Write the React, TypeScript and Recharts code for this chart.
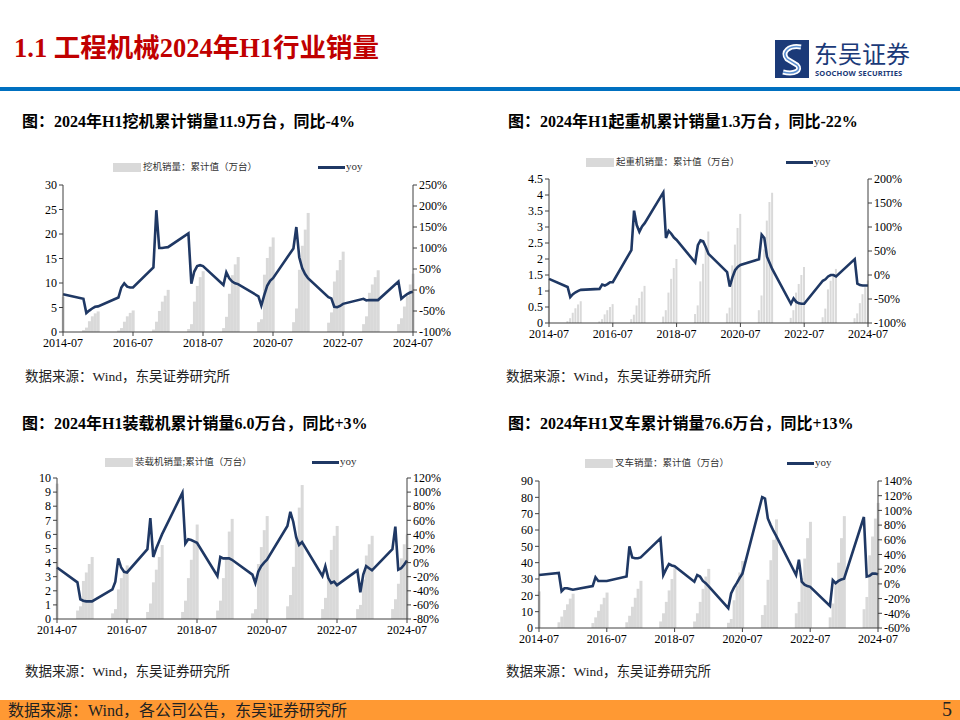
import React from "react";
import { ComposedChart, Bar, Line, XAxis, YAxis } from "recharts";

// month-end dates of the cumulative figures (Jan..Jun each year)
const months = [
  "2014-06",
  "2015-01", "2015-02", "2015-03", "2015-04", "2015-05", "2015-06",
  "2016-01", "2016-02", "2016-03", "2016-04", "2016-05", "2016-06",
  "2017-01", "2017-02", "2017-03", "2017-04", "2017-05", "2017-06",
  "2018-01", "2018-02", "2018-03", "2018-04", "2018-05", "2018-06",
  "2019-01", "2019-02", "2019-03", "2019-04", "2019-05", "2019-06",
  "2020-01", "2020-02", "2020-03", "2020-04", "2020-05", "2020-06",
  "2021-01", "2021-02", "2021-03", "2021-04", "2021-05", "2021-06",
  "2022-01", "2022-02", "2022-03", "2022-04", "2022-05", "2022-06",
  "2023-01", "2023-02", "2023-03", "2023-04", "2023-05", "2023-06",
  "2024-01", "2024-02", "2024-03", "2024-04", "2024-05", "2024-06",
];
const xTickLabels = ["2014-07", "2016-07", "2018-07", "2020-07", "2022-07", "2024-07"];

// 挖机
const excavatorSales = [
  7.2,
  0.4, 0.9, 2.2, 3.2, 3.8, 4.2,
  0.3, 0.8, 2.1, 3.2, 3.9, 4.4,
  0.5, 2.1, 4.3, 6.2, 7.4, 8.6,
  0.6, 1.6, 6.2, 9.4, 11.2, 12.4,
  0.8, 3.1, 7.8, 11.6, 13.8, 15.3,
  2.0, 2.6, 11.7, 15.1, 17.4, 19.3,
  2.0, 4.8, 12.7, 17.6, 20.9, 24.3,
  1.9, 4.0, 10.3, 12.6, 14.7, 16.4,
  1.6, 3.2, 8.0, 9.7, 11.2, 12.6,
  1.6, 2.8, 5.2, 7.3, 9.7, 11.9,
];
const excavatorYoy = [
  -10,
  -21, -55, -49, -44, -40, -39,
  -18, 6, 16, 8, 6, 6,
  54, 190, 100, 100, 101, 102,
  135, 15, 44, 57, 59, 57,
  12, 42, 28, 20, 16, 14,
  -15, -37, -12, 10, 22, 28,
  99, 150, 78, 52, 38, 28,
  -17, -20, -40, -41, -38, -33,
  -21, -25, -24, -24, -24, -24,
  20, -21, -15, -10, -6, -4,
];

// 起重机
const craneSales = [
  1.05,
  0.06, 0.15, 0.32, 0.46, 0.58, 0.68,
  0.05, 0.12, 0.27, 0.4, 0.5, 0.59,
  0.12, 0.26, 0.55, 0.78, 0.98, 1.16,
  0.2, 0.4, 0.95, 1.38, 1.72, 2.0,
  0.28, 0.55, 1.3, 1.85, 2.4, 2.86,
  0.3, 0.48, 1.8, 2.45, 2.97, 3.41,
  0.4, 0.86, 2.3, 3.2, 3.78, 4.07,
  0.16, 0.4, 0.95, 1.22, 1.5, 1.75,
  0.18, 0.45, 1.05, 1.32, 1.52, 1.69,
  0.15, 0.3, 0.62, 0.9, 1.12, 1.33,
];
const craneYoy = [
  -8,
  -25, -46, -40, -36, -33, -31,
  -29, -20, -22, -19, -15, -15,
  52, 134, 104, 90, 101, 108,
  172, 77, 92, 86, 78, 73,
  26, 62, 72, 70, 58, 44,
  6, -24, -5, 10, 17, 21,
  33, 84, 77, 38, 25, 12,
  -60, -49, -56, -59, -60, -60,
  -12, -9, -3, 0, 0, -3,
  33, -18, -21, -22, -22, -22,
];

// 装载机
const loaderSales = [
  9.6,
  0.6, 0.9, 2.7, 3.3, 3.9, 4.4,
  0.4, 0.7, 2.1, 2.9, 3.4, 3.8,
  0.5, 1.1, 2.6, 3.5, 4.4, 5.25,
  0.5, 1.3, 2.9, 4.2, 5.5, 6.7,
  0.6, 1.3, 2.9, 4.4, 6.2, 7.1,
  0.4, 0.7, 3.9, 5.1, 6.3, 7.3,
  0.9, 1.7, 3.7, 5.9, 7.9, 9.5,
  0.7, 1.5, 2.8, 4.9, 5.9, 6.6,
  0.7, 1.0, 2.8, 4.5, 5.3, 5.9,
  0.7, 1.4, 2.5, 4.3, 5.3, 6.0,
];
const loaderYoy = [
  -7,
  -28, -52, -54, -55, -55, -55,
  -38, -27, 6, -7, -13, -14,
  19, 63, 8, 20, 30, 40,
  99, 27, 33, 32, 30, 28,
  -19, 8, 6, 6, 6, 4,
  -17, -29, -13, -5, 0, 4,
  52, 72, 58, 36, 25, 29,
  -19, -5, -22, -29, -27, -32,
  -11, -42, -17, -5, -8, -11,
  19, 51, -10, -8, -3, 3,
];

// 叉车
const forkliftSales = [
  22.4,
  3.5, 7, 11, 14.5, 18, 21,
  3, 6.5, 10.5, 14.5, 18.5, 21.7,
  3.5, 7.5, 13, 18.5, 24, 28.9,
  4, 9, 16, 23, 30, 36.6,
  4, 9, 16, 24, 31.5, 36.2,
  3.2, 5.5, 17, 26, 34, 41,
  8, 14, 29.5, 41.5, 54, 66.5,
  9, 16, 30.5, 42.5, 55, 65,
  6.5, 15, 28, 40, 55, 68.5,
  11.5, 19, 44.5, 56, 67, 76.6,
];
const forkliftYoy = [
  12,
  15, -10, -6, -6, -7, -8,
  -3, 9, 4, 4, 4, 4,
  10, 51, 36, 35, 35, 36,
  62, 12, 20, 27, 25, 24,
  3, 12, 10, 4, 1, -3,
  -33, -13, -5, 1, 8, 14,
  118, 116, 89, 80, 72, 65,
  12, 33, 3, -1, -3, -4,
  -30, 5, 1, 4, 6, 7,
  91, 10, 11, 14, 14, 13,
];

const SERIF = "'Liberation Serif', 'Times New Roman', 'Noto Sans CJK SC', serif";
const CJK = "'Liberation Serif', 'Noto Sans CJK SC', sans-serif";
const BAR = "#D9D9D9";
const LINE = "#1F3864";
const AXIS = "#404040";

// month-end slot: 2014-06 -> 0 (2014-07 tick), 2024-06 -> 120
const monthPos = (m: string) => {
  const [y, mo] = m.split("-").map(Number);
  return (y - 2014) * 12 + mo - 6;
};

// one row per monthly slot on the time axis; slots without data stay empty
const buildRows = (sales: number[], yoy: number[]) => {
  const rows: any[] = [];
  for (let i = 0; i <= 120; i++) rows.push({ slot: i, sales: null, yoy: null });
  months.forEach((m, k) => {
    const r = rows[monthPos(m)];
    r.sales = sales[k];
    r.yoy = yoy[k];
  });
  return rows;
};

type PanelProps = {
  rows: any[];
  L: number; R: number; T: number; B: number;
  leftTicks: number[];
  rightTicks: number[];
  legendLabel: string;
  legendY: number;
  barLegendX: number;
  lineLegendX: number;
};

const Panel = ({ rows, L, R, T, B, leftTicks, rightTicks, legendLabel, legendY, barLegendX, lineLegendX }: PanelProps) => {
  const tick = { fill: "#000", fontSize: 12, fontFamily: SERIF };
  const half = (R - L) / 120 / 2;
  return (
    <>
      <div style={{ position: "absolute", left: barLegendX, top: legendY - 4.5, width: 28, height: 9, background: BAR }} />
      <div style={{ position: "absolute", left: barLegendX + 30, top: legendY - 7, fontSize: 9.5, lineHeight: "14px", fontFamily: CJK, color: "#333", whiteSpace: "nowrap" }}>
        {legendLabel}
      </div>
      <div style={{ position: "absolute", left: lineLegendX, top: legendY - 1.5, width: 27, height: 3, background: LINE }} />
      <div style={{ position: "absolute", left: lineLegendX + 28, top: legendY - 8, fontSize: 11, lineHeight: "14px", fontFamily: SERIF, color: "#333" }}>
        yoy
      </div>
      <div style={{ position: "absolute", left: L - 40, top: T - 10 }}>
        <ComposedChart
          width={R - L + 90}
          height={B - T + 35}
          data={rows}
          margin={{ top: 10, right: 0, bottom: 0, left: 0 }}
          barCategoryGap={0.15}
          barGap={0}
        >
          <XAxis
            dataKey="slot"
            type="category"
            interval={23}
            padding={{ left: -half, right: -half }}
            tickFormatter={(v: number) => xTickLabels[v / 24]}
            height={25}
            stroke={AXIS}
            tickSize={4}
            tick={tick}
          />
          <YAxis
            yAxisId="left"
            orientation="left"
            width={40}
            domain={[leftTicks[0], leftTicks[leftTicks.length - 1]]}
            ticks={leftTicks}
            interval={0}
            stroke={AXIS}
            tickSize={4}
            tick={tick}
          />
          <YAxis
            yAxisId="right"
            orientation="right"
            width={50}
            domain={[rightTicks[0], rightTicks[rightTicks.length - 1]]}
            ticks={rightTicks}
            interval={0}
            tickFormatter={(v: number) => `${v}%`}
            stroke={AXIS}
            tickSize={4}
            tick={tick}
          />
          <Bar yAxisId="left" dataKey="sales" fill={BAR} isAnimationActive={false} />
          <Line yAxisId="right" dataKey="yoy" type="linear" stroke={LINE} strokeWidth={2.6} dot={false} connectNulls isAnimationActive={false} />
        </ComposedChart>
      </div>
    </>
  );
};

const chartTitle = (text: string, x: number, y: number) => (
  <div style={{ position: "absolute", left: x, top: y - 11, fontSize: 16, lineHeight: "22px", fontWeight: "bold", fontFamily: CJK, color: "#000", whiteSpace: "nowrap" }}>
    {text}
  </div>
);

const sourceNote = (x: number, y: number) => (
  <div style={{ position: "absolute", left: x, top: y - 9, fontSize: 13.5, lineHeight: "18px", fontFamily: CJK, color: "#222", whiteSpace: "nowrap" }}>
    数据来源：Wind，东吴证券研究所
  </div>
);

export default function App() {
  return (
    <div style={{ position: "absolute", left: 0, top: 0, width: 960, height: 720, background: "#fff", overflow: "hidden" }}>
      <div style={{ position: "absolute", left: 14, top: 32, fontSize: 26.5, lineHeight: "32px", fontWeight: "bold", fontFamily: CJK, color: "#C00000", whiteSpace: "nowrap" }}>
        1.1 工程机械2024年H1行业销量
      </div>

      {/* logo */}
      <svg style={{ position: "absolute", left: 775, top: 40 }} width={34} height={38}>
        <rect width={34} height={38} fill="#1B3A78" />
        <path d="M26 7 C 14 5, 6 12, 12 19 L 22 25 C 27 30, 20 35, 8 32" stroke="#fff" strokeWidth={5} fill="none" />
        <path d="M26 7 C 14 5, 6 12, 12 19 L 22 25 C 27 30, 20 35, 8 32" stroke="#5B8FD0" strokeWidth={1.5} fill="none" />
      </svg>
      <div style={{ position: "absolute", left: 814, top: 41, fontSize: 24, lineHeight: "24px", fontFamily: "'Noto Sans CJK SC', sans-serif", color: "#1B3A78", whiteSpace: "nowrap" }}>
        东吴证券
      </div>
      <div style={{ position: "absolute", left: 815, top: 69, fontSize: 7.5, lineHeight: "8px", fontWeight: "bold", fontFamily: "'Noto Sans', sans-serif", color: "#1B3A78", letterSpacing: 0.2, whiteSpace: "nowrap" }}>
        SOOCHOW SECURITIES
      </div>
      <div style={{ position: "absolute", left: 0, top: 87, width: 960, height: 4, background: "#0070C0" }} />

      {chartTitle("图：2024年H1挖机累计销量11.9万台，同比-4%", 22, 122)}
      {chartTitle("图：2024年H1起重机累计销量1.3万台，同比-22%", 508, 122)}
      {chartTitle("图：2024年H1装载机累计销量6.0万台，同比+3%", 22, 424)}
      {chartTitle("图：2024年H1叉车累计销量76.6万台，同比+13%", 508, 424)}

      <Panel
        rows={buildRows(excavatorSales, excavatorYoy)}
        L={63} R={413} T={185} B={332}
        leftTicks={[0, 5, 10, 15, 20, 25, 30]}
        rightTicks={[-100, -50, 0, 50, 100, 150, 200, 250]}
        legendLabel="挖机销量：累计值（万台）"
        legendY={167} barLegendX={113} lineLegendX={318}
      />
      <Panel
        rows={buildRows(craneSales, craneYoy)}
        L={549} R={868} T={179} B={323}
        leftTicks={[0, 0.5, 1, 1.5, 2, 2.5, 3, 3.5, 4, 4.5]}
        rightTicks={[-100, -50, 0, 50, 100, 150, 200]}
        legendLabel="起重机销量：累计值（万台）"
        legendY={162} barLegendX={586} lineLegendX={786}
      />
      <Panel
        rows={buildRows(loaderSales, loaderYoy)}
        L={57} R={407} T={478} B={619}
        leftTicks={[0, 1, 2, 3, 4, 5, 6, 7, 8, 9, 10]}
        rightTicks={[-80, -60, -40, -20, 0, 20, 40, 60, 80, 100, 120]}
        legendLabel="装载机销量;累计值（万台）"
        legendY={462} barLegendX={105} lineLegendX={312}
      />
      <Panel
        rows={buildRows(forkliftSales, forkliftYoy)}
        L={539} R={878} T={481} B={628}
        leftTicks={[0, 10, 20, 30, 40, 50, 60, 70, 80, 90]}
        rightTicks={[-60, -40, -20, 0, 20, 40, 60, 80, 100, 120, 140]}
        legendLabel="叉车销量：累计值（万台）"
        legendY={463} barLegendX={585} lineLegendX={787}
      />

      {sourceNote(25, 377)}
      {sourceNote(506, 377)}
      {sourceNote(25, 672)}
      {sourceNote(506, 672)}

      <div style={{ position: "absolute", left: 0, top: 700, width: 960, height: 20, background: "#FF9933" }} />
      <div style={{ position: "absolute", left: 8, top: 701, fontSize: 16, lineHeight: "19px", fontFamily: CJK, color: "#222", whiteSpace: "nowrap" }}>
        数据来源：Wind，各公司公告，东吴证券研究所
      </div>
      <div style={{ position: "absolute", left: 942, top: 699, fontSize: 20, lineHeight: "21px", fontFamily: SERIF, color: "#222" }}>
        5
      </div>
    </div>
  );
}
